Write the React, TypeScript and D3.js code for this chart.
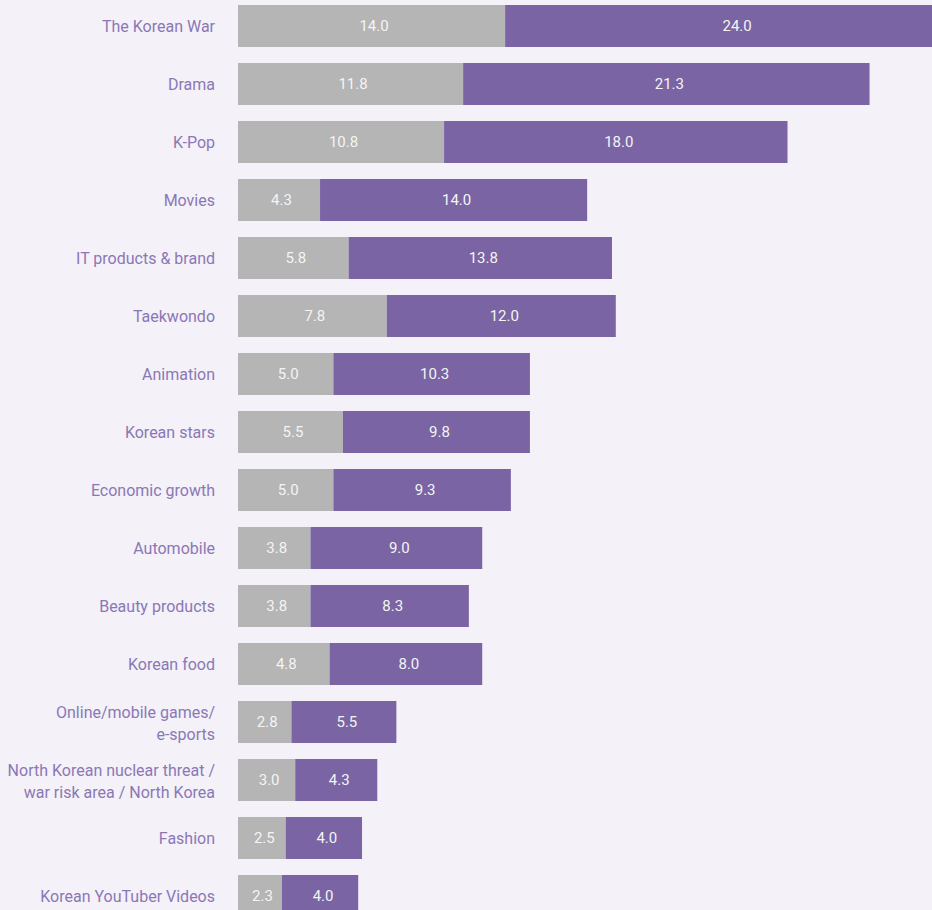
import React from "react";
import * as d3 from "d3";

const categories: string[][] = [
  ["The Korean War"],
  ["Drama"],
  ["K-Pop"],
  ["Movies"],
  ["IT products & brand"],
  ["Taekwondo"],
  ["Animation"],
  ["Korean stars"],
  ["Economic growth"],
  ["Automobile"],
  ["Beauty products"],
  ["Korean food"],
  ["Online/mobile games/", "e-sports"],
  ["North Korean nuclear threat /", "war risk area / North Korea"],
  ["Fashion"],
  ["Korean YouTuber Videos"],
];
const greyValues = [14.0, 11.8, 10.8, 4.3, 5.8, 7.8, 5.0, 5.5, 5.0, 3.8, 3.8, 4.8, 2.8, 3.0, 2.5, 2.3];
const purpleValues = [24.0, 21.3, 18.0, 14.0, 13.8, 12.0, 10.3, 9.8, 9.3, 9.0, 8.3, 8.0, 5.5, 4.3, 4.0, 4.0];

const W = 932;
const H = 910;
const FONT = "Roboto, 'Noto Sans', sans-serif";

export default function App() {
  const keys = categories.map((c) => c.join(" "));
  const y = d3.scaleBand<string>().domain(keys).range([-3, 925]).paddingInner(16 / 58).paddingOuter(8 / 58);
  const x = d3.scaleLinear().domain([0, 38]).range([238, 238 + 38 * 19.08]);
  const bw = y.bandwidth();
  return (
    <svg width={W} height={H} style={{ position: "absolute", left: 0, top: 0, background: "#f4f1f8" }}>
      <rect x={0} y={0} width={W} height={H} fill="#f4f1f8" />
      {keys.map((k, i) => {
        const y0 = y(k)!;
        const g = greyValues[i];
        const p = purpleValues[i];
        const cy = y0 + bw / 2;
        const lines = categories[i];
        const shift = lines.length > 1 ? 1 : 0;
        return (
          <g key={k}>
            <rect x={x(0)} y={y0} width={x(g) - x(0)} height={bw} fill="#b4b5b4" />
            <rect x={x(g)} y={y0} width={x(g + p) - x(g)} height={bw} fill="#7a64a3" />
            <text x={(x(0) + x(g)) / 2 + 2.5} y={cy} dy="0.36em" textAnchor="middle" fill="#f4f4f4" fontSize={15} fontFamily={FONT}>
              {g.toFixed(1)}
            </text>
            <text x={(x(g) + x(g + p)) / 2 + 3} y={cy} dy="0.36em" textAnchor="middle" fill="#f4f4f4" fontSize={15} fontFamily={FONT}>
              {p.toFixed(1)}
            </text>
            <text x={215} y={cy} textAnchor="end" fill="#8a78b6" fontSize={16} fontFamily={FONT}>
              {lines.map((l, j) => (
                <tspan key={j} x={215} y={cy + shift + (j - (lines.length - 1) / 2) * 22} dy="0.35em">
                  {l}
                </tspan>
              ))}
            </text>
          </g>
        );
      })}
    </svg>
  );
}
